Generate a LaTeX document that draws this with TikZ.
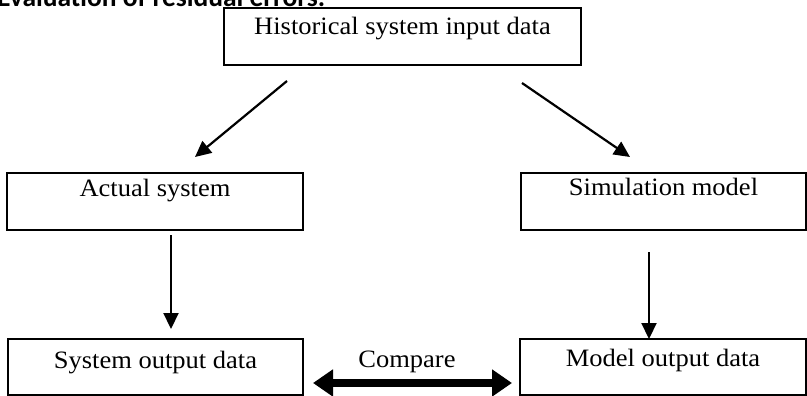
\documentclass[tikz,border=0pt]{standalone}
\usepackage{fontspec}
\setmainfont{Liberation Serif}[FakeStretch=1.06]
\newfontfamily\capfont{Carlito}
\usetikzlibrary{arrows.meta}
\begin{document}
\begin{tikzpicture}[x=1pt,y=-1pt,
  box/.style={draw, line width=2pt, inner sep=0pt, anchor=base,
    font=\fontsize{25}{30}\selectfont},
  lbl/.style={inner sep=0pt, anchor=base, font=\fontsize{25}{30}\selectfont},
  flow/.style={line width=2.2pt, -{Triangle[width=15pt,length=16pt]}},
  cmp/.style={line width=8pt,
    {Triangle[width=26pt,length=20pt]}-{Triangle[width=26pt,length=20pt]}}
]
\clip (0,0) rectangle (807,396);
% cut-off caption at the top
\node[inner sep=0pt, anchor=base west, font=\capfont\bfseries\fontsize{27.5}{32}\selectfont] (cap) at (-3,7) {Evaluation of residual errors.};
% boxes
\node[box, text height=27pt, text depth=30pt, minimum width=357pt] (hist) at (402.5,35) {Historical system input data};
\node[box, text height=23pt, text depth=34pt, minimum width=296pt] (act) at (155,196) {Actual system};
\node[box, text height=22pt, text depth=35pt, minimum width=285pt] (sim) at (663.5,195) {Simulation model};
\node[box, text height=29pt, text depth=27pt, minimum width=295pt] (sys) at (155.5,368) {System output data};
\node[box, text height=27pt, text depth=29pt, minimum width=286pt] (mod) at (663,366) {Model output data};
% connector end points
\coordinate (h1) at (287,81);
\coordinate (a1) at (195,157);
\coordinate (h2) at (522,83);
\coordinate (s1) at (630,157);
\coordinate (a2) at (171,235);
\coordinate (y1) at (171,329);
\coordinate (s2) at (649,252);
\coordinate (m1) at (649,339);
\coordinate (c1) at (313,383);
\coordinate (c2) at (512,383);
\draw[flow] (h1) -- (a1);
\draw[flow] (h2) -- (s1);
\draw[flow] (a2) -- (y1);
\draw[flow] (s2) -- (m1);
\draw[cmp] (c1) -- (c2);
\node[lbl] (cmptxt) at (407,367) {Compare};
\end{tikzpicture}
\end{document}
